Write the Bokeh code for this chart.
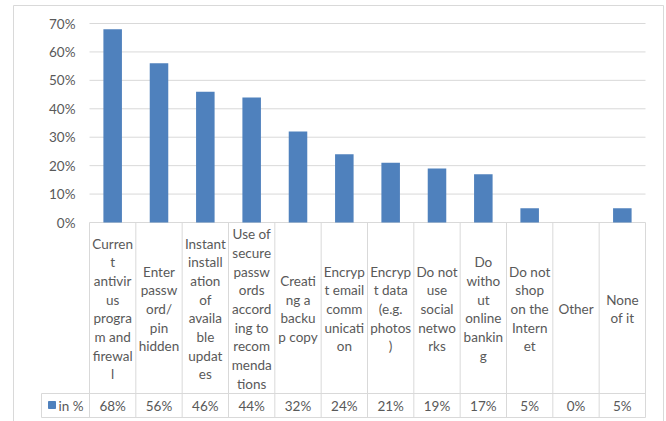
from bokeh.plotting import figure
from bokeh.models import FixedTicker
from bokeh.core.properties import value
from bokeh.embed import file_html
from bokeh.resources import INLINE

# ---- data -----------------------------------------------------------------
CATEGORY_LINES = [
    ["Curren", "t", "antivir", "us", "progra", "m and", "firewal", "l"],
    ["Enter", "passw", "ord/", "pin", "hidden"],
    ["Instant", "install", "ation", "of", "availa", "ble", "updat", "es"],
    ["Use of", "secure", "passw", "ords", "accord", "ing to", "recom", "menda", "tions"],
    ["Creati", "ng a", "backu", "p copy"],
    ["Encryp", "t email", "comm", "unicati", "on"],
    ["Encryp", "t data", "(e.g.", "photos", ")"],
    ["Do not", "use", "social", "netwo", "rks"],
    ["Do", "witho", "ut", "online", "bankin", "g"],
    ["Do not", "shop", "on the", "Intern", "et"],
    ["Other"],
    ["None", "of it"],
]
VALUES = [68, 56, 46, 44, 32, 24, 21, 19, 17, 5, 0, 5]
SERIES_NAME = "in %"
Y_TICKS = [0, 10, 20, 30, 40, 50, 60, 70]
Y_TICK_LABELS = ["0%", "10%", "20%", "30%", "40%", "50%", "60%", "70%"]

# ---- layout helpers (screen pixels -> data units) --------------------------
W, H = 666, 421
PLOT_LEFT = 89.0          # left edge of plot area / first table column
PLOT_RIGHT = 645.0
N = len(VALUES)
CELL_W = (PLOT_RIGHT - PLOT_LEFT) / N
BASE_Y = 222.0            # screen row of the 0 % line
PX_PER_PCT = (222.0 - 23.0) / 70.0


def xd(px):
    return (px - PLOT_LEFT) / CELL_W - 0.5


def yd(py):
    return (BASE_Y - py) / PX_PER_PCT


GRID = "#d9d9d9"
TEXT = "#595959"
BLUE = "#4f81bd"
FONT = "Lato"
FONT_SIZE = "13.5px"

p = figure(width=W, height=H, x_range=(xd(0), xd(W)), y_range=(yd(H), yd(0)),
           output_backend="svg", toolbar_location=None, min_border=0,
           x_axis_location=None, y_axis_location="left")
p.grid.visible = False
p.outline_line_color = None
p.background_fill_color = "white"
p.border_fill_color = "white"

# value axis sits on the left edge of the plot area
ax = p.yaxis[0]
ax.fixed_location = -0.5
ax.ticker = FixedTicker(ticks=Y_TICKS)
ax.major_label_overrides = {t: s for t, s in zip(Y_TICKS, Y_TICK_LABELS)}
ax.axis_line_color = None
ax.major_tick_line_color = None
ax.minor_tick_line_color = None
ax.major_tick_in = 0
ax.major_tick_out = 0
ax.major_label_standoff = 14
ax.major_label_text_font = FONT
ax.major_label_text_font_size = FONT_SIZE
ax.major_label_text_color = TEXT

# outer chart border
p.segment(x0=[xd(13), xd(13), xd(663)], y0=[yd(5), yd(5), yd(5)],
          x1=[xd(663), xd(13), xd(663)], y1=[yd(5), yd(H + 2), yd(H + 2)],
          line_color=GRID, line_width=1)

# horizontal gridlines
p.segment(x0=[-0.5] * len(Y_TICKS), x1=[N - 0.5] * len(Y_TICKS),
          y0=Y_TICKS, y1=Y_TICKS, line_color=GRID, line_width=1)

# bars
idx = list(range(N))
p.vbar(x=idx, top=VALUES, bottom=0, width=0.4, fill_color=BLUE, line_color=None)

# data table grid
ROW_SPLIT = 393.0
ROW_BOTTOM = 417.0
legend_left = xd(41)
p.segment(x0=[i - 0.5 for i in range(N + 1)], x1=[i - 0.5 for i in range(N + 1)],
          y0=[0] * (N + 1), y1=[yd(ROW_BOTTOM)] * (N + 1),
          line_color=GRID, line_width=1)
p.segment(x0=[legend_left, legend_left, legend_left],
          x1=[N - 0.5, N - 0.5, legend_left],
          y0=[yd(ROW_SPLIT), yd(ROW_BOTTOM), yd(ROW_SPLIT)],
          y1=[yd(ROW_SPLIT), yd(ROW_BOTTOM), yd(ROW_BOTTOM)],
          line_color=GRID, line_width=1)

# category labels, wrapped into their cells
LINE_H = 18.7
BLOCK_MID = 308.5
lx, ly, lt = [], [], []
for i, lines in enumerate(CATEGORY_LINES):
    n = len(lines)
    for k, s in enumerate(lines):
        lx.append(i)
        ly.append(yd(BLOCK_MID + (k - (n - 1) / 2) * LINE_H))
        lt.append(s)
p.text(x=lx, y=ly, text=lt, text_align="center", text_baseline="middle",
       text_font=value(FONT), text_font_size=FONT_SIZE, text_color=TEXT)

# value row
VAL_MID = 405.0
p.text(x=idx, y=[yd(VAL_MID)] * N, text=[f"{v}%" for v in VALUES],
       text_align="center", text_baseline="middle",
       text_font=value(FONT), text_font_size=FONT_SIZE, text_color=TEXT)

# legend key in the table's first cell
p.scatter(x=[xd(51.5)], y=[yd(VAL_MID - 0.5)], marker="square", size=7,
          fill_color=BLUE, line_color=BLUE)
p.text(x=[xd(58)], y=[yd(VAL_MID)], text=[SERIES_NAME], text_align="left",
       text_baseline="middle", text_font=value(FONT), text_font_size=FONT_SIZE,
       text_color=TEXT)

open("out.html", "w").write(file_html(p, INLINE))
